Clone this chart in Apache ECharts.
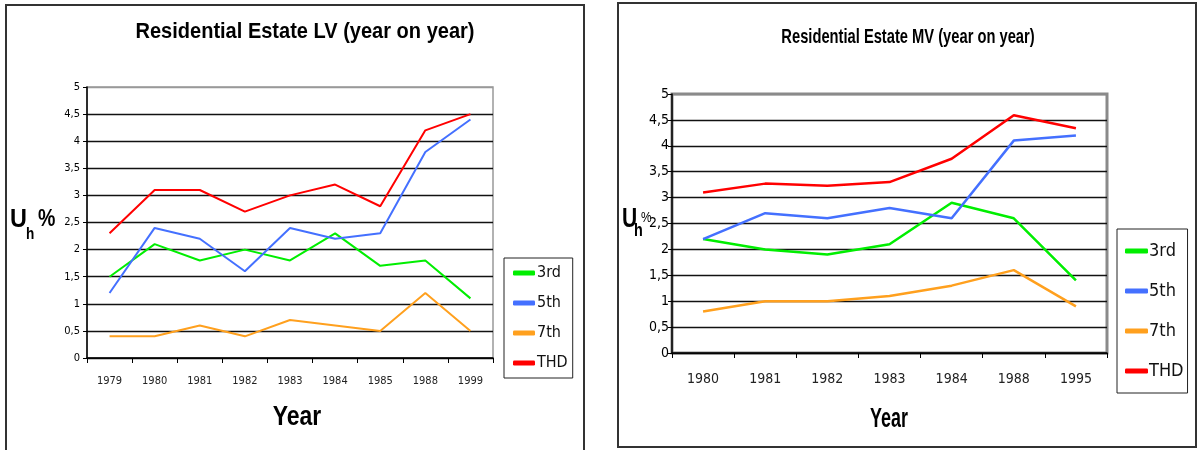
<!DOCTYPE html>
<html>
<head>
<meta charset="utf-8">
<script src="https://cdn.jsdelivr.net/npm/echarts@6/dist/echarts.min.js"></script>
<style>
html,body{margin:0;padding:0;background:#fff;}
#c{width:1197px;height:450px;}
</style>
</head>
<body>
<div id="c"></div>
<script>
// ---- data ----
var seriesNames = ['3rd', '5th', '7th', 'THD'];
var yTicks = ['0', '0,5', '1', '1,5', '2', '2,5', '3', '3,5', '4', '4,5', '5'];

var lvYears = ['1979', '1980', '1981', '1982', '1983', '1984', '1985', '1988', '1999'];
var lv3rd = [1.5, 2.1, 1.8, 2.0, 1.8, 2.3, 1.7, 1.8, 1.1];
var lv5th = [1.2, 2.4, 2.2, 1.6, 2.4, 2.2, 2.3, 3.8, 4.4];
var lv7th = [0.4, 0.4, 0.6, 0.4, 0.7, 0.6, 0.5, 1.2, 0.5];
var lvTHD = [2.3, 3.1, 3.1, 2.7, 3.0, 3.2, 2.8, 4.2, 4.5];

var mvYears = ['1980', '1981', '1982', '1983', '1984', '1988', '1995'];
var mv3rd = [2.2, 2.0, 1.9, 2.1, 2.9, 2.6, 1.4];
var mv5th = [2.2, 2.7, 2.6, 2.8, 2.6, 4.1, 4.2];
var mv7th = [0.8, 1.0, 1.0, 1.1, 1.3, 1.6, 0.9];
var mvTHD = [3.1, 3.27, 3.23, 3.3, 3.75, 4.59, 4.34];

var colors = ['#00ee00', '#4470ff', '#ffa01e', '#ff0000'];
var NARROW = '"Liberation Sans Narrow", "DejaVu Sans Condensed", "Liberation Sans", Arial, sans-serif';
var SANS = '"Liberation Sans", Arial, sans-serif';

function yAxis(gridIndex, fontSize, margin, topColor) {
  var lineColors = [];
  for (var i = 0; i < 11; i++) lineColors.push(i === 10 ? topColor : '#111');
  return {
    type: 'value', gridIndex: gridIndex, min: 0, max: 5, interval: 0.5,
    axisLine: { show: true, lineStyle: { color: '#000', width: 1.5 } },
    axisTick: { show: true, length: 4, lineStyle: { color: '#000', width: 1 } },
    axisLabel: {
      margin: margin, color: '#000', fontSize: fontSize, fontFamily: NARROW,
      formatter: function (v) { return yTicks[Math.round(v * 2)]; }
    },
    splitLine: { show: true, lineStyle: { color: lineColors, width: 1.3 } }
  };
}
function xAxis(gridIndex, data, fontSize, margin) {
  return {
    type: 'category', gridIndex: gridIndex, data: data, boundaryGap: true,
    axisLine: { show: true, lineStyle: { color: '#000', width: 1.5 } },
    axisTick: { show: true, length: 5, lineStyle: { color: '#000', width: 1 } },
    axisLabel: { margin: margin, color: '#222', fontSize: fontSize, fontFamily: NARROW },
    splitLine: { show: false }
  };
}
function line(name, data, idx, width) {
  return {
    type: 'line', name: name, data: data, xAxisIndex: idx, yAxisIndex: idx,
    symbol: 'none', color: colors[seriesNames.indexOf(name)],
    lineStyle: { width: width }, animation: false
  };
}

var chart = echarts.init(document.getElementById('c'), null, { renderer: 'canvas' });
chart.setOption({
  animation: false,
  grid: [
    { left: 87, top: 87, width: 406, height: 271, show: true, borderColor: '#999', borderWidth: 1.5 },
    { left: 672, top: 94, width: 435, height: 259, show: true, borderColor: '#8a8a8a', borderWidth: 3 }
  ],
  xAxis: [xAxis(0, lvYears, 11, 18), xAxis(1, mvYears, 14, 19)],
  yAxis: [yAxis(0, 11, 7, '#999'), yAxis(1, 14, 3, '#8a8a8a')],
  legend: [
    {
      data: seriesNames, orient: 'vertical', left: 504, top: 258,
      padding: [7, 5, 7, 9], itemGap: 14, itemWidth: 22, itemHeight: 5, icon: 'roundRect',
      borderColor: '#222', borderWidth: 1,
      textStyle: { fontSize: 16, fontFamily: NARROW, color: '#111', padding: [0, 0, 0, -3] }
    },
    {
      data: seriesNames, orient: 'vertical', left: 1117, top: 229,
      padding: [13, 4, 13, 8], itemGap: 22, itemWidth: 23, itemHeight: 5, icon: 'roundRect',
      borderColor: '#222', borderWidth: 1,
      textStyle: { fontSize: 18, fontFamily: NARROW, color: '#111', padding: [0, 0, 0, -4] }
    }
  ],
  series: [
    line('3rd', lv3rd, 0, 2), line('5th', lv5th, 0, 2), line('7th', lv7th, 0, 2), line('THD', lvTHD, 0, 2),
    line('3rd', mv3rd, 1, 2.5), line('5th', mv5th, 1, 2.5), line('7th', mv7th, 1, 2.5), line('THD', mvTHD, 1, 2.5)
  ],
  graphic: [
    { type: 'rect', shape: { x: 6, y: 5, width: 578, height: 470 }, style: { fill: 'none', stroke: '#333', lineWidth: 2 }, silent: true },
    { type: 'rect', shape: { x: 618, y: 3, width: 578, height: 444 }, style: { fill: 'none', stroke: '#333', lineWidth: 2 }, silent: true },
    { type: 'text', x: 305, y: 32, scaleX: 0.91, style: { text: 'Residential Estate LV (year on year)', font: 'bold 22px ' + SANS, fill: '#000', align: 'center', verticalAlign: 'middle' } },
    { type: 'text', x: 908, y: 37, scaleX: 0.70, style: { text: 'Residential Estate MV (year on year)', font: 'bold 21px ' + SANS, fill: '#000', align: 'center', verticalAlign: 'middle' } },
    { type: 'text', x: 297, y: 417, scaleX: 0.82, style: { text: 'Year', font: 'bold 28px ' + SANS, fill: '#000', align: 'center', verticalAlign: 'middle' } },
    { type: 'text', x: 889, y: 419, scaleX: 0.64, style: { text: 'Year', font: 'bold 28px ' + SANS, fill: '#000', align: 'center', verticalAlign: 'middle' } },
    { type: 'text', x: 10, y: 220, scaleX: 0.9, style: { text: 'U', font: 'bold 26px ' + SANS, fill: '#000', align: 'left', verticalAlign: 'middle' } },
    { type: 'text', x: 26, y: 235, scaleX: 0.85, style: { text: 'h', font: 'bold 16px ' + SANS, fill: '#000', align: 'left', verticalAlign: 'middle' } },
    { type: 'text', x: 38, y: 220, scaleX: 0.85, style: { text: '%', font: 'bold 23px ' + SANS, fill: '#000', align: 'left', verticalAlign: 'middle' } },
    { type: 'text', x: 622, y: 219, scaleX: 0.75, style: { text: 'U', font: 'bold 28px ' + SANS, fill: '#000', align: 'left', verticalAlign: 'middle' } },
    { type: 'text', x: 634, y: 231, scaleX: 0.8, style: { text: 'h', font: 'bold 18px ' + SANS, fill: '#000', align: 'left', verticalAlign: 'middle' } },
    { type: 'text', x: 641, y: 218, scaleX: 0.85, style: { text: '%', font: '14px ' + SANS, fill: '#000', align: 'left', verticalAlign: 'middle' } }
  ]
});
</script>
</body>
</html>
